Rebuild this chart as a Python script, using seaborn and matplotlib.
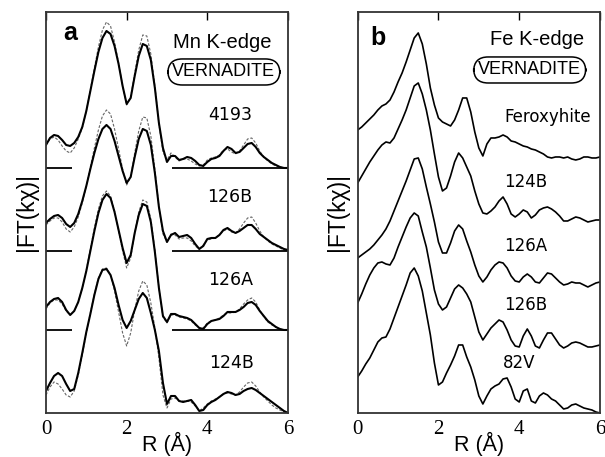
import numpy as np
import pandas as pd
import seaborn as sns
import matplotlib.pyplot as plt

# R grid (Angstrom) shared by all spectra
r = np.round(np.arange(0, 60.5) / 10, 1)

# ---- panel a : Mn K-edge, solid = experiment, dashed = fit ----
mn_names = ["4193", "126B", "126A", "124B"]
mn_offsets = [245, 162, 83, 0]

mn_4193 = [23, 30, 33, 32, 28, 23, 22, 25, 31, 41, 57, 77, 97, 116, 130, 137, 134, 122, 104, 82,
           64, 70, 92, 112, 124, 122, 108, 80, 45, 20, 6, 12, 12, 8, 9, 11, 10, 7, 3, 2,
           6, 9, 10, 12, 17, 21, 19, 15, 16, 20, 24, 25, 21, 15, 11, 8, 5, 3, 1, 0, 0]
mn_4193_fit = [23, 29, 31, 28, 22, 17, 15, 20, 29, 40, 57, 78, 100, 121, 138, 146, 142, 126, 105, 82,
               63, 71, 95, 118, 133, 132, 114, 82, 44, 16, 8, 15, 11, 7, 9, 9, 7, 4, 2, 3,
               8, 10, 11, 13, 18, 19, 16, 14, 17, 23, 29, 30, 25, 17, 11, 7, 4, 2, 1, 0, 0]
mn_126b = [28, 32, 35, 36, 33, 27, 24, 28, 37, 50, 65, 82, 98, 112, 122, 126, 122, 110, 95, 80,
           68, 74, 94, 112, 122, 120, 106, 78, 44, 20, 9, 16, 18, 14, 15, 16, 13, 7, 2, 5,
           12, 13, 13, 16, 21, 23, 20, 18, 20, 23, 26, 26, 22, 17, 14, 11, 8, 6, 4, 2, 1]
mn_126b_fit = [26, 30, 33, 33, 29, 22, 19, 24, 34, 48, 65, 84, 103, 121, 135, 141, 137, 122, 102, 82,
               66, 74, 98, 120, 134, 133, 115, 82, 44, 17, 9, 17, 16, 12, 13, 13, 10, 5, 2, 6,
               11, 12, 13, 16, 20, 22, 19, 18, 22, 28, 33, 34, 28, 20, 14, 10, 7, 5, 3, 1, 0]
mn_126a = [23, 28, 31, 32, 28, 20, 15, 19, 28, 42, 59, 79, 99, 117, 130, 136, 132, 118, 100, 82,
           67, 75, 97, 115, 126, 124, 108, 78, 42, 14, 8, 16, 16, 14, 13, 12, 10, 6, 2, 1,
           6, 9, 10, 11, 14, 18, 18, 18, 20, 23, 27, 28, 25, 19, 14, 9, 6, 3, 1, 0, 0]
mn_126a_fit = [21, 27, 30, 30, 26, 19, 15, 19, 28, 42, 60, 81, 102, 121, 134, 139, 134, 119, 99, 79,
               62, 72, 97, 118, 130, 128, 111, 80, 42, 13, 7, 15, 15, 13, 12, 11, 9, 5, 2, 2,
               7, 9, 10, 12, 15, 17, 17, 18, 21, 26, 30, 32, 28, 20, 13, 8, 5, 3, 1, 0, 0]
mn_124b = [22, 30, 37, 40, 37, 29, 22, 24, 40, 60, 81, 99, 118, 134, 143, 144, 138, 125, 108, 93,
           85, 92, 103, 114, 120, 115, 100, 83, 62, 30, 9, 17, 17, 12, 11, 12, 13, 8, 2, 3,
           8, 11, 13, 16, 19, 21, 20, 18, 19, 22, 24, 25, 23, 20, 17, 14, 11, 8, 5, 2, 0]
mn_124b_fit = [18, 26, 31, 29, 24, 18, 16, 22, 38, 58, 80, 100, 119, 135, 144, 145, 138, 122, 101, 80,
               67, 80, 103, 122, 132, 128, 110, 85, 55, 18, 5, 14, 15, 12, 12, 12, 11, 7, 2, 5,
               9, 12, 14, 16, 19, 20, 19, 18, 21, 26, 30, 31, 27, 21, 16, 12, 8, 5, 3, 1, 0]

mn_exp = [mn_4193, mn_126b, mn_126a, mn_124b]
mn_fit = [mn_4193_fit, mn_126b_fit, mn_126a_fit, mn_124b_fit]

# ---- panel b : Fe K-edge ----
fe_names = ["Feroxyhite", "124B", "126A", "126B", "82V"]
fe_offsets = [253, 191, 126, 63, 0]

fe_ferox = [30, 33, 37, 41, 45, 50, 54, 56, 60, 68, 78, 87, 98, 110, 122, 127, 116, 96, 72, 55,
            42, 38, 36, 34, 40, 50, 62, 62, 48, 28, 12, 4, 16, 22, 22, 23, 25, 23, 19, 18,
            16, 14, 13, 11, 10, 8, 6, 3, 2, 3, 3, 2, 3, 1, 0, 1, 3, 3, 2, 2, 3]
fe_124b = [39, 46, 53, 60, 66, 72, 77, 80, 79, 84, 93, 102, 112, 124, 136, 139, 128, 112, 92, 68,
           45, 31, 34, 46, 60, 69, 64, 55, 46, 31, 18, 9, 8, 11, 15, 21, 25, 18, 8, 5,
           8, 12, 10, 4, 7, 12, 14, 15, 13, 10, 6, 1, 1, 3, 5, 4, 2, 0, 1, 2, 2]
fe_126a = [29, 32, 35, 38, 42, 47, 52, 58, 66, 76, 86, 96, 106, 117, 128, 129, 118, 100, 83, 65,
           45, 34, 34, 44, 56, 62, 58, 46, 35, 22, 11, 5, 10, 17, 22, 25, 24, 19, 11, 6,
           5, 10, 13, 10, 5, 4, 9, 14, 13, 9, 5, 2, 3, 5, 4, 4, 2, 0, 2, 4, 5]
fe_126b = [47, 56, 66, 75, 82, 87, 88, 86, 85, 92, 103, 113, 123, 132, 137, 134, 118, 103, 82, 60,
           46, 40, 43, 52, 61, 65, 62, 56, 48, 33, 18, 10, 16, 22, 26, 30, 28, 20, 10, 4,
           3, 14, 21, 14, 4, 2, 10, 17, 17, 11, 5, 2, 4, 7, 8, 7, 5, 3, 3, 4, 5]
fe_82v = [36, 42, 49, 55, 63, 71, 75, 76, 84, 95, 106, 117, 128, 140, 145, 137, 122, 100, 78, 50,
          28, 31, 40, 48, 57, 68, 68, 56, 46, 33, 17, 9, 17, 24, 27, 29, 34, 35, 26, 14,
          11, 22, 24, 12, 10, 17, 20, 18, 14, 12, 8, 4, 5, 8, 9, 7, 5, 4, 3, 1, 0]

fe_exp = [fe_ferox, fe_124b, fe_126a, fe_126b, fe_82v]

sns.set_style("white")
plt.rcParams['font.family'] = ['Liberation Sans', 'DejaVu Sans']
plt.rcParams.update({"text.color": "black", "axes.labelcolor": "black",
                     "xtick.color": "black", "ytick.color": "black"})

fig = plt.figure(figsize=(6.05, 4.57), dpi=100)
ax_a = fig.add_axes([0.076, 0.0963, 0.400, 0.8775])
ax_b = fig.add_axes([0.5912, 0.0963, 0.4005, 0.8775])

for name, off, yexp, yfit in zip(mn_names, mn_offsets, mn_exp, mn_fit):
    df = pd.DataFrame({"R": r, "exp": np.array(yexp) + off, "fit": np.array(yfit) + off})
    sns.lineplot(data=df, x="R", y="fit", ax=ax_a, color="#666666", lw=0.8,
                 linestyle=(0, (2.5, 1.5)), estimator=None)
    sns.lineplot(data=df, x="R", y="exp", ax=ax_a, color="black", lw=1.5, estimator=None)
    if off > 0:
        ax_a.hlines(off, 0, 0.64, color="black", lw=1.3)
        ax_a.hlines(off, 3.12, 6.0, color="black", lw=1.3)

for name, off, yexp in zip(fe_names, fe_offsets, fe_exp):
    df = pd.DataFrame({"R": r, "exp": np.array(yexp) + off})
    sns.lineplot(data=df, x="R", y="exp", ax=ax_b, color="black", lw=1.2, estimator=None)

# text labels
lab_font = ["DejaVu Sans"]
box = dict(boxstyle="round,pad=0.25,rounding_size=0.8", fc="white", ec="black", lw=1.1)

ax_a.text(0.6, 380, "a", fontsize=18, fontweight="bold", ha="center", va="center")
ax_a.text(4.36, 370, "Mn K-edge", fontsize=14.5, ha="center", va="center")
ax_a.text(4.41, 341, "VERNADITE", fontsize=13, ha="center", va="center", bbox=box)
for lab, xx, yy in zip(mn_names, [4.56, 4.56, 4.59, 4.59], [298, 216, 133, 50]):
    ax_a.text(xx, yy, lab, fontsize=12.5, ha="center", va="center", family=lab_font)

ax_b.text(0.5, 375, "b", fontsize=18, fontweight="bold", ha="center", va="center")
ax_b.text(4.44, 373, "Fe K-edge", fontsize=14.5, ha="center", va="center")
ax_b.text(4.26, 343, "VERNADITE", fontsize=13, ha="center", va="center", bbox=box)
for lab, xx, yy in zip(fe_names, [4.7, 4.17, 4.17, 4.17, 3.99], [296, 231, 167, 108, 50]):
    ax_b.text(xx, yy, lab, fontsize=12, ha="center", va="center", family=lab_font)

for ax in (ax_a, ax_b):
    ax.set_xlim(0, 6)
    ax.set_ylim(0, 401)
    ax.set_xticks([0, 2, 4, 6])
    ax.set_yticks([])
    ax.tick_params(axis="x", direction="in", top=True, length=6, width=1, pad=5, labelsize=15)
    for t in ax.get_xticklabels():
        t.set_fontfamily("Liberation Serif")
    for s in ax.spines.values():
        s.set_color("#333333")
        s.set_linewidth(1.3)
    ax.set_xlabel("R (Å)", fontsize=15.5, labelpad=-5)
    ax.set_ylabel("|FT(kχ)|", fontsize=16.5, labelpad=6)

fig.savefig("out.png", dpi=100)
